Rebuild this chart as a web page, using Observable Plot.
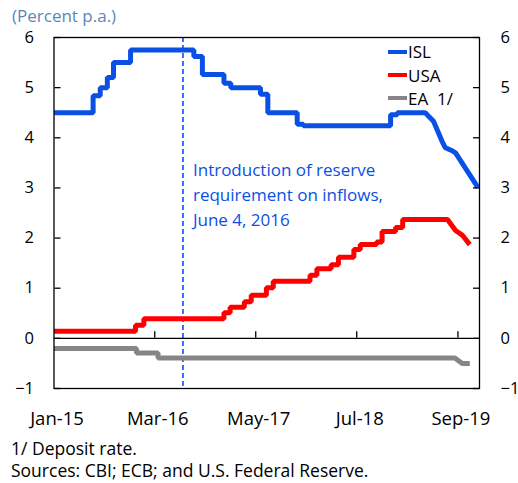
<!DOCTYPE html>
<html><head><meta charset="utf-8">
<script src="https://cdn.jsdelivr.net/npm/d3@7"></script>
<script src="https://cdn.jsdelivr.net/npm/@observablehq/plot@0.6"></script>
<style>
body{margin:0;background:#fff;font-family:"Open Sans",sans-serif;}
#wrap{position:relative;width:518px;height:483px;overflow:hidden;}
#chart{position:absolute;left:0;top:0;}
#sub{position:absolute;left:12px;top:7px;font-size:17px;line-height:17px;color:#5b87b6;white-space:nowrap;}
#notes{position:absolute;left:11px;top:437px;font-size:17.5px;line-height:22px;color:#000;white-space:nowrap;}
.lg{position:absolute;left:388px;height:24px;display:flex;align-items:center;font-size:17px;white-space:pre;}
.lg span.sw{display:inline-block;width:19px;height:4px;margin-right:1px;}
</style></head><body>
<div id="wrap">
  <div id="sub">(Percent p.a.)</div>
  <div id="chart"></div>
  <div id="legend"></div>
  <div id="notes">1/ Deposit rate.<br>Sources: CBI; ECB; and U.S. Federal Reserve.</div>
</div>
<script>
// ---- data ----
const seriesNames = ["ISL", "USA", "EA  1/"];
const seriesColors = ["#0a50e4", "#ff0000", "#868686"];

const islDates = ["2015-01-01","2015-06-15","2015-06-15","2015-07-15","2015-07-15","2015-08-14","2015-08-14","2015-09-09","2015-09-09","2015-11-20","2015-11-20","2016-08-13","2016-08-13","2016-09-18","2016-09-18","2016-12-18","2016-12-18","2017-01-16","2017-01-16","2017-05-21","2017-05-21","2017-06-21","2017-06-21","2017-10-23","2017-10-23","2017-11-18","2017-11-18","2018-11-21","2018-11-21","2018-12-19","2018-12-19","2019-04-16","2019-05-21","2019-06-26","2019-07-10","2019-08-08","2019-08-22","2019-11-24"];
const islValues = [4.5,4.5,4.84,4.84,5.0,5.0,5.2,5.2,5.5,5.5,5.75,5.75,5.62,5.62,5.26,5.26,5.09,5.09,5.0,5.0,4.87,4.87,4.5,4.5,4.27,4.27,4.24,4.24,4.46,4.46,4.5,4.5,4.33,3.93,3.8,3.74,3.7,3.01];

const usaDates = ["2015-01-01","2015-12-11","2015-12-11","2016-01-15","2016-01-15","2016-12-18","2016-12-18","2017-01-13","2017-01-13","2017-03-14","2017-03-14","2017-04-12","2017-04-12","2017-06-15","2017-06-15","2017-07-14","2017-07-14","2017-12-16","2017-12-16","2018-01-14","2018-01-14","2018-03-15","2018-03-15","2018-04-15","2018-04-15","2018-06-19","2018-06-19","2018-07-16","2018-07-16","2018-09-23","2018-09-23","2018-10-16","2018-10-16","2018-12-12","2018-12-12","2019-01-11","2019-01-11","2019-07-19","2019-08-22","2019-09-19","2019-10-21"];
const usaValues = [0.14,0.14,0.26,0.26,0.39,0.39,0.51,0.51,0.62,0.62,0.73,0.73,0.86,0.86,1.01,1.01,1.14,1.14,1.26,1.26,1.39,1.39,1.47,1.47,1.62,1.62,1.77,1.77,1.87,1.87,1.92,1.92,2.13,2.13,2.21,2.21,2.37,2.37,2.15,2.06,1.87];

const eaDates = ["2015-01-01","2015-12-15","2015-12-15","2016-03-15","2016-03-15","2019-08-19","2019-09-19","2019-10-21"];
const eaValues = [-0.2,-0.2,-0.29,-0.29,-0.39,-0.39,-0.5,-0.5];

const xDomain = ["2015-01-01", "2019-12-01"];
const xTickDates = ["2015-01-01","2016-03-01","2017-05-01","2018-07-01","2019-09-01"];
const yTicks = [-1, 0, 1, 2, 3, 4, 5, 6];
const yDomain = [-1, 6];
const ruleDate = "2016-06-28";
const annotation = "Introduction of reserve\nrequirement on inflows,\nJune 4, 2016";
const annotationY = 3.6;

// ---- build ----
const parse = d3.utcParse("%Y-%m-%d");
const mk = (name, dates, values) => dates.map((d, i) => ({name, date: parse(d), value: values[i]}));
const isl = mk("ISL", islDates, islValues);
const usa = mk("USA", usaDates, usaValues);
const ea = mk("EA", eaDates, eaValues);
const ticks = xTickDates.map(parse);
const blue = seriesColors[0];

const lineOpts = (c) => ({x: "date", y: "value", stroke: c, strokeWidth: 5, strokeLinejoin: "miter", strokeLinecap: "butt"});

const chart = Plot.plot({
  width: 518, height: 435,
  marginTop: 37, marginBottom: 47, marginLeft: 53.5, marginRight: 39,
  style: {fontFamily: "Open Sans", fontSize: "17px", color: "#000", background: "transparent", overflow: "visible"},
  x: {type: "utc", domain: xDomain.map(parse)},
  y: {domain: yDomain},
  marks: [
    Plot.ruleY([0], {stroke: "#000", strokeWidth: 1.3}),
    Plot.ruleX(ticks.slice(1), {x: d => d, y1: 0, y2: 0.13, stroke: "#000", strokeWidth: 1.3}),
    Plot.ruleX([parse(ruleDate)], {x: d => d, stroke: blue, strokeWidth: 1.6, strokeDasharray: "5,3"}),
    Plot.line(ea, lineOpts(seriesColors[2])),
    Plot.line(usa, lineOpts(seriesColors[1])),
    Plot.line(isl, lineOpts(seriesColors[0])),
    Plot.text([annotation], {x: parse(ruleDate), y: annotationY, text: d => d, dx: 10, textAnchor: "start", lineAnchor: "top", lineHeight: 1.47, fill: blue, fontSize: 17}),
    Plot.axisY(yTicks, {anchor: "left", tickSize: 0, tickPadding: 20, tickFormat: d3.format("d"), fontSize: 16.5, label: null}),
    Plot.axisY(yTicks, {anchor: "right", tickSize: 0, tickPadding: 21, tickFormat: d3.format("d"), fontSize: 16.5, label: null}),
    Plot.axisY(yTicks, {anchor: "right", frameAnchor: "left", tickSize: 6, fill: "none", strokeWidth: 1.3, label: null}),
    Plot.axisY(yTicks, {anchor: "left", frameAnchor: "right", tickSize: 6, fill: "none", strokeWidth: 1.3, label: null}),
    Plot.axisX(ticks, {anchor: "bottom", tickSize: 0, tickPadding: 23, dx: 3, fontSize: 18.5, tickFormat: d3.utcFormat("%b-%y"), label: null}),
    Plot.frame({stroke: "#000", strokeWidth: 1.3})
  ]
});
document.getElementById("chart").append(chart);

const legend = document.getElementById("legend");
const rowCenters = [51.7, 75, 98.3];
seriesNames.forEach((n, i) => {
  const row = document.createElement("div");
  row.className = "lg";
  row.style.top = (rowCenters[i] - 12) + "px";
  const sw = document.createElement("span");
  sw.className = "sw";
  sw.style.background = seriesColors[i];
  row.append(sw, document.createTextNode(n));
  legend.append(row);
});
</script>
</body></html>
